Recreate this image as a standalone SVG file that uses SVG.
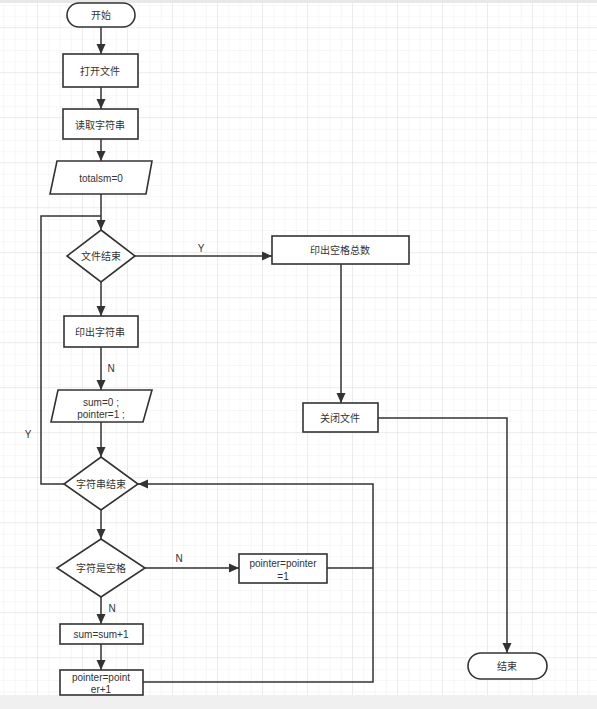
<svg xmlns="http://www.w3.org/2000/svg" width="597" height="709" viewBox="0 0 597 709">
<defs>
<pattern id="minor" x="-7" y="6" width="11.25" height="11.25" patternUnits="userSpaceOnUse">
<path d="M11.25 0V11.25M0 11.25H11.25" fill="none" stroke="#efefef" stroke-width="1"/>
</pattern>
<pattern id="major" x="-7" y="-17" width="45" height="45" patternUnits="userSpaceOnUse">
<path d="M45 0V45M0 45H45" fill="none" stroke="#e2e2e2" stroke-width="1"/>
</pattern>
<marker id="arr" viewBox="0 0 10 10" refX="10" refY="5" markerWidth="10" markerHeight="10" markerUnits="userSpaceOnUse" orient="auto">
<path d="M0,0.5 L10,5 L0,9.5 Z" fill="#333"/>
</marker>
<style>
.n{fill:#fff;stroke:#333;stroke-width:1.6}
.t{font-family:"Liberation Sans","Noto Sans CJK SC",sans-serif;font-size:10px;fill:#333;text-anchor:middle;dominant-baseline:central}
.c{fill:none;stroke:#333;stroke-width:1.5}
.a{marker-end:url(#arr)}
</style>
</defs>
<rect width="597" height="709" fill="#fff"/>
<rect width="597" height="709" fill="url(#minor)"/>
<rect width="597" height="709" fill="url(#major)"/>
<rect x="0" y="0" width="597" height="3" fill="#e8e8e8"/>
<rect x="0" y="695" width="597" height="14" fill="#f0f0f0"/>

<g id="connectors">
<path class="c a" d="M101,27 V54"/>
<path class="c a" d="M101,87 V109"/>
<path class="c a" d="M101,139 V161"/>
<path class="c a" d="M101,194 V230"/>
<path class="c" d="M64,484 H41 V216 H101"/>
<path class="c a" d="M135,256 H272"/>
<path class="c a" d="M101,282 V316"/>
<path class="c a" d="M341,264 V403"/>
<path class="c a" d="M378,418 H507 V653"/>
<path class="c a" d="M101,347 V390"/>
<path class="c a" d="M101,422 V457"/>
<path class="c a" d="M101,510 V539"/>
<path class="c a" d="M145,568 H239"/>
<path class="c a" d="M101,597 V624"/>
<path class="c a" d="M101,644 V670"/>
<path class="c a" d="M143,682 H373 V484 H138"/>
<path class="c" d="M327,568 H373"/>
<text class="t" x="201" y="248">Y</text>
<text class="t" x="111" y="368">N</text>
<text class="t" x="28" y="434">Y</text>
<text class="t" x="179" y="558">N</text>
<text class="t" x="112" y="608">N</text>
</g>

<g id="start"><rect class="n" x="67" y="3" width="68" height="24" rx="12"/><text class="t" x="101" y="15">开始</text></g>
<g id="open"><rect class="n" x="63" y="54" width="75" height="33"/><text class="t" x="100" y="71">打开文件</text></g>
<g id="read"><rect class="n" x="63" y="109" width="75" height="30"/><text class="t" x="100" y="125">读取字符串</text></g>
<g id="totalsm"><polygon class="n" points="57,161 152,161 146,194 50,194"/><text class="t" x="101" y="178">totalsm=0</text></g>
<g id="fileend"><polygon class="n" points="101,230 135,256 101,282 67,256"/><text class="t" x="101" y="256">文件结束</text></g>
<g id="printspace"><rect class="n" x="272" y="236" width="137" height="28"/><text class="t" x="340" y="250">印出空格总数</text></g>
<g id="printstr"><rect class="n" x="64" y="316" width="74" height="31"/><text class="t" x="100" y="332">印出字符串</text></g>
<g id="init"><polygon class="n" points="58,390 152,390 143,422 51,422"/><text class="t" x="101" y="402">sum=0 ;</text><text class="t" x="101" y="414">pointer=1 ;</text></g>
<g id="close"><rect class="n" x="303" y="403" width="75" height="29"/><text class="t" x="340" y="418">关闭文件</text></g>
<g id="strend"><polygon class="n" points="101,457 138,484 101,510 64,484"/><text class="t" x="101" y="484">字符串结束</text></g>
<g id="isspace"><polygon class="n" points="101,539 145,568 101,597 57,568"/><text class="t" x="101" y="568">字符是空格</text></g>
<g id="ptrinc1"><rect class="n" x="239" y="554" width="88" height="29"/><text class="t" x="283" y="563">pointer=pointer</text><text class="t" x="283" y="576">=1</text></g>
<g id="suminc"><rect class="n" x="60" y="624" width="83" height="20"/><text class="t" x="101" y="634">sum=sum+1</text></g>
<g id="ptrinc2"><rect class="n" x="60" y="670" width="83" height="25"/><text class="t" x="101" y="677">pointer=point</text><text class="t" x="101" y="689">er+1</text></g>
<g id="end"><rect class="n" x="468" y="653" width="79" height="26" rx="13"/><text class="t" x="507" y="666">结束</text></g>
</svg>
